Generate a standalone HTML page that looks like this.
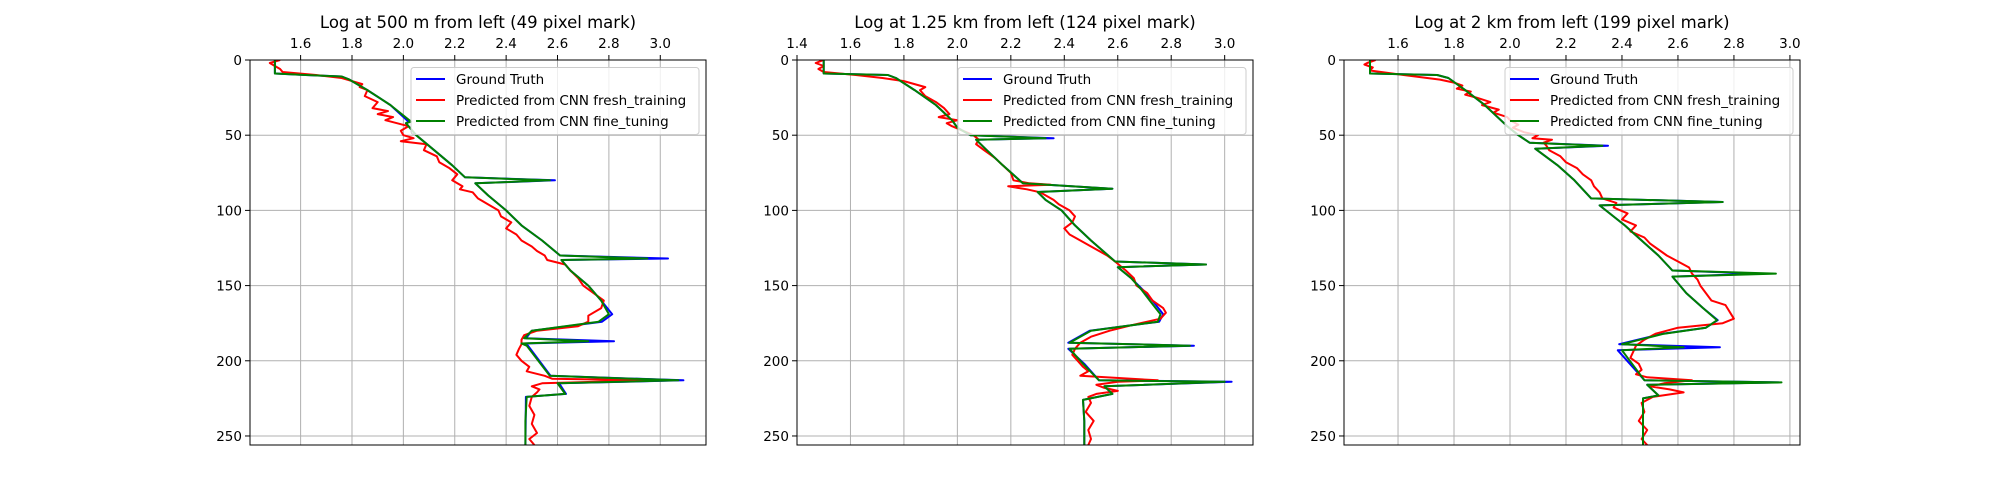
<!DOCTYPE html>
<html><head><meta charset="utf-8"><style>
html,body{margin:0;padding:0;background:#fff;}
svg{display:block;font-family:"DejaVu Sans","Liberation Sans",sans-serif;}
</style></head><body>
<svg id="fig" width="2000" height="500" viewBox="0 0 2000 500" xmlns="http://www.w3.org/2000/svg"></svg>
<script>
// ---- data ----
const titles = ["Log at 500 m from left (49 pixel mark)", "Log at 1.25 km from left (124 pixel mark)", "Log at 2 km from left (199 pixel mark)"];
const xLims = [[1.403, 3.178], [1.4, 3.106], [1.407, 3.036]];
const xTicks = [[1.6,1.8,2.0,2.2,2.4,2.6,2.8,3.0],[1.4,1.6,1.8,2.0,2.2,2.4,2.6,2.8,3.0],[1.6,1.8,2.0,2.2,2.4,2.6,2.8,3.0]];
const yTicks = [0,50,100,150,200,250];
const yMax = 256;
const seriesNames = ["Ground Truth","Predicted from CNN fresh_training","Predicted from CNN fine_tuning"];
const seriesColors = ["#0000ff","#ff0000","#008000"];

// panel 1
const truth1D = [0,9,10,11,13,20,30,41,42,44,50,60,70,78,80,82,90,100,110,120,130,132,133,140,150,160,169,174,180,185,187,188.5,190,210,213,215,222,224,240,256];
const truth1V = [1.50,1.50,1.62,1.76,1.79,1.86,1.95,2.02,2.01,2.02,2.05,2.12,2.19,2.24,2.59,2.28,2.33,2.40,2.46,2.54,2.61,3.03,2.615,2.65,2.72,2.77,2.813,2.773,2.50,2.477,2.82,2.467,2.485,2.573,3.09,2.606,2.633,2.477,2.476,2.475];
const red1D = [0,2,4,6,8,10,12,14,16,18,20,24,28,32,34,36,38,40,44,47,50,52,54,56,60,64,68,72,76,80,84,86,88,92,96,100,104,108,112,116,120,124,127,130,133,136,140,145,150,155,160,165,170,174,177,180,183,186,189,192,196,200,204,207,210,212,213,215,217,219,221,224,230,236,242,248,252,256];
const red1V = [1.52,1.48,1.50,1.52,1.53,1.66,1.76,1.80,1.84,1.83,1.86,1.85,1.90,1.88,1.94,1.90,1.96,1.93,2.02,1.99,2.00,2.04,1.99,2.09,2.08,2.13,2.14,2.18,2.21,2.19,2.23,2.22,2.27,2.29,2.33,2.37,2.38,2.42,2.40,2.44,2.46,2.50,2.52,2.55,2.56,2.63,2.65,2.68,2.70,2.74,2.78,2.77,2.72,2.72,2.68,2.52,2.47,2.46,2.46,2.45,2.44,2.46,2.49,2.48,2.55,2.58,2.95,2.54,2.50,2.53,2.52,2.50,2.49,2.51,2.50,2.52,2.49,2.51];
const green1D = [0,9,10,11,13,20,30,41,42,44,50,60,70,78,80,82,90,100,110,120,130,132,133,140,150,160,169,174,180,185,187,188.5,190,210,213,215,222,224,240,256];
const green1V = [1.50,1.50,1.62,1.76,1.79,1.86,1.95,2.03,2.01,2.02,2.05,2.12,2.19,2.24,2.57,2.28,2.33,2.40,2.46,2.54,2.61,2.95,2.615,2.65,2.72,2.77,2.80,2.76,2.50,2.47,2.72,2.46,2.48,2.57,3.07,2.60,2.63,2.48,2.475,2.475];

// panel 2
const truth2D = [0,9,10,12,20,30,40,45,50,52,53,60,70,82,85.6,87.8,93,100,110,120,134,136,137.8,145,153,160,169,174,180,188,190,192,202,213,214,217,222,226,240,256];
const truth2V = [1.50,1.50,1.74,1.77,1.84,1.92,1.98,2.00,2.05,2.36,2.07,2.11,2.17,2.245,2.58,2.30,2.33,2.39,2.44,2.50,2.59,2.93,2.60,2.65,2.695,2.73,2.77,2.755,2.495,2.415,2.885,2.415,2.475,2.53,3.026,2.55,2.58,2.47,2.475,2.475];
const red2D = [0,2,4,6,8,10,12,14,16,18,20,24,28,32,36,38,40,42,44,47,50,53,56,60,65,70,75,80,82,83,84,86,88,90,93,96,100,104,108,112,116,118,122,126,130,134,137,140,145,150,155,160,165,168,172,176,180,184,188,192,196,200,204,207,210,213,214,216,218,220,222,224,228,234,240,246,252,256];
const red2V = [1.50,1.47,1.50,1.48,1.50,1.62,1.72,1.80,1.84,1.88,1.86,1.88,1.92,1.95,1.97,1.93,2.00,1.96,1.98,2.02,2.06,2.08,2.07,2.10,2.14,2.17,2.20,2.21,2.27,2.35,2.19,2.26,2.31,2.33,2.36,2.38,2.42,2.44,2.43,2.40,2.42,2.44,2.48,2.52,2.56,2.59,2.61,2.63,2.66,2.67,2.71,2.73,2.77,2.78,2.76,2.66,2.57,2.50,2.46,2.44,2.43,2.45,2.47,2.49,2.46,2.75,2.60,2.52,2.55,2.60,2.52,2.49,2.50,2.48,2.51,2.49,2.50,2.49];
const green2D = [0,9,10,12,20,30,40,45,50,52,53,60,70,82,85.6,87.8,93,100,110,120,134,136,137.8,145,153,160,169,174,180,188,190,192,202,213,214,217,222,226,240,256];
const green2V = [1.50,1.50,1.74,1.77,1.84,1.92,1.98,2.00,2.05,2.33,2.07,2.11,2.17,2.245,2.58,2.30,2.33,2.39,2.44,2.50,2.59,2.93,2.60,2.65,2.69,2.72,2.76,2.75,2.50,2.42,2.87,2.42,2.47,2.53,3.00,2.55,2.58,2.47,2.475,2.475];

// panel 3
const truth3D = [0,9,10,12,20,30,44,50,55,57,59,70,80,92,94.4,96.7,110,120,130,140,142,144,155,165,173,178,182,189,191,193,213,214.4,216,223,225,240,256];
const truth3V = [1.50,1.50,1.74,1.78,1.84,1.91,1.99,2.03,2.07,2.35,2.09,2.17,2.23,2.29,2.76,2.32,2.41,2.47,2.53,2.58,2.90,2.58,2.63,2.69,2.742,2.70,2.545,2.39,2.75,2.385,2.481,2.96,2.49,2.53,2.475,2.475,2.475];
const red3D = [0,2,3,5,7,10,13,15,17,19,21,23,25,28,30,33,35,38,40,43,45,48,50,52,53,55,57,60,64,68,72,76,80,84,88,92,95,98,102,106,110,114,118,122,126,130,134,138,142,146,150,155,160,163,166,169,172,175,178,182,186,190,194,198,202,206,209,211,213,215,217,219,221,224,228,234,240,246,252,256];
const red3V = [1.52,1.49,1.48,1.51,1.50,1.62,1.75,1.80,1.83,1.81,1.86,1.84,1.88,1.93,1.90,1.96,1.94,1.99,2.00,2.03,2.01,2.05,2.10,2.08,2.15,2.12,2.13,2.14,2.18,2.20,2.24,2.26,2.29,2.30,2.32,2.33,2.38,2.37,2.42,2.40,2.45,2.43,2.48,2.50,2.53,2.56,2.60,2.64,2.65,2.67,2.68,2.70,2.72,2.77,2.78,2.79,2.80,2.76,2.60,2.52,2.48,2.45,2.44,2.43,2.46,2.47,2.45,2.49,2.65,2.55,2.50,2.57,2.62,2.51,2.47,2.48,2.46,2.49,2.47,2.49];
const green3D = [0,9,10,12,20,30,44,50,55,57,59,70,80,92,94.4,96.7,110,120,130,140,142,144,155,165,173,178,182,189,191,193,213,214.4,216,223,225,240,256];
const green3V = [1.50,1.50,1.74,1.78,1.84,1.91,1.99,2.03,2.07,2.33,2.09,2.17,2.23,2.29,2.76,2.32,2.41,2.47,2.53,2.58,2.95,2.58,2.63,2.69,2.74,2.70,2.55,2.40,2.62,2.40,2.48,2.97,2.49,2.53,2.475,2.475,2.475];

const panelSeries = [
  [[truth1D,truth1V],[red1D,red1V],[green1D,green1V]],
  [[truth2D,truth2V],[red2D,red2V],[green2D,green2V]],
  [[truth3D,truth3V],[red3D,red3V],[green3D,green3V]]
];

// ---- layout ----
const NS = "http://www.w3.org/2000/svg";
const svg = document.getElementById('fig');
const axLefts = [250, 797, 1344];
const axW = 456, axTop = 60, axBot = 445;

function mk(tag, attrs, parent){
  const e = document.createElementNS(NS, tag);
  for (const k in attrs) e.setAttribute(k, attrs[k]);
  (parent||svg).appendChild(e);
  return e;
}

for (let p = 0; p < 3; p++) {
  const L = axLefts[p], R = L + axW;
  const [x0, x1] = xLims[p];
  const sx = v => L + (v - x0) / (x1 - x0) * axW;
  const sy = d => axTop + d / yMax * (axBot - axTop);

  const g = mk('g', {});
  
  

  const clipId = 'clip' + p;
  const cp = mk('clipPath', {id: clipId}, g);
  mk('rect', {x: L, y: axTop, width: axW, height: axBot - axTop}, cp);

  const grid = mk('g', {stroke: '#b0b0b0', 'stroke-width': 1}, g);
  
  
  xTicks[p].forEach(t => { const x = sx(t); mk('line', {x1: x, x2: x, y1: axTop, y2: axBot}, grid); });
  yTicks.forEach(t => { const y = sy(t); mk('line', {x1: L, x2: R, y1: y, y2: y}, grid); });

  const lines = mk('g', {'clip-path': 'url(#' + clipId + ')', fill: 'none', 'stroke-width': 2, 'stroke-linejoin': 'round'}, g);
  panelSeries[p].forEach((s, i) => {
    const [D, V] = s;
    const pts = D.map((d, k) => sx(V[k]).toFixed(1) + ',' + sy(d).toFixed(1)).join(' ');
    const pl = mk('polyline', {points: pts, stroke: seriesColors[i]}, lines);
    
    
  });

  const fr = mk('rect', {x: L, y: axTop, width: axW, height: axBot - axTop, fill: 'none', stroke: '#000', 'stroke-width': 1}, g);
  
  

  xTicks[p].forEach(t => {
    const x = sx(t);
    mk('line', {x1: x, x2: x, y1: axTop, y2: axTop - 5, stroke: '#000', 'stroke-width': 1}, g);
    const tx = mk('text', {x: x, y: axTop - 12, 'font-size': 13.5, 'text-anchor': 'middle', fill: '#000'}, g);
    tx.textContent = t.toFixed(1);
    
    
  });
  yTicks.forEach(t => {
    const y = sy(t);
    mk('line', {x1: L, x2: L - 5, y1: y, y2: y, stroke: '#000', 'stroke-width': 1}, g);
    const ty = mk('text', {x: L - 8, y: y + 5, 'font-size': 13.5, 'text-anchor': 'end', fill: '#000'}, g);
    ty.textContent = String(t);
    
    
  });

  const tt = mk('text', {x: L + axW/2, y: 28, 'font-size': 16.5, 'text-anchor': 'middle', fill: '#000'}, g);
  tt.textContent = titles[p];
  
  

  const lg = mk('g', {}, g);
  
  
  const lw = 288, lx = R - 7 - lw, ly = 67.5;
  mk('rect', {x: lx, y: ly, width: lw, height: 67, rx: 3, fill: 'rgba(255,255,255,0.8)', stroke: '#cccccc', 'stroke-width': 1}, lg);
  seriesNames.forEach((n, i) => {
    const yy = ly + 11.5 + i * 21;
    const le = mk('g', {}, lg);
    
    
    mk('line', {x1: lx + 5, x2: lx + 34, y1: yy, y2: yy, stroke: seriesColors[i], 'stroke-width': 2}, le);
    const t = mk('text', {x: lx + 45, y: yy + 5, 'font-size': 13.5, fill: '#000'}, le);
    t.textContent = n;
  });
}
</script>
</body></html>
